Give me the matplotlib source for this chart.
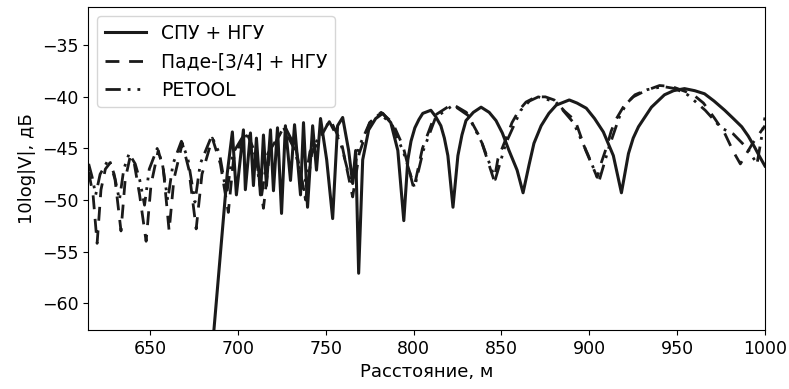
import matplotlib
matplotlib.use("Agg")
import matplotlib.pyplot as plt

# СПУ + НГУ
x_spu = [685.6, 693.9, 696.8, 699.1, 703.1, 704.2, 707.1, 708.8, 710.5, 712.8,
         714.5, 716.2, 718.5, 720.2, 722.5, 724.8, 727.0, 729.9, 732.2, 735.6,
         737.3, 739.6, 742.5, 744.7, 747.0, 750.5, 753.9, 756.7, 759.6, 763.0,
         765.3, 767.0, 768.7, 771.0, 774.4, 778.4, 782.4, 787.0, 791.0, 794.4,
         796.7, 798.5, 800.7, 803.0, 805.2, 809.8, 812.5, 815.5, 817.5, 819.5,
         822.4, 825.2, 827.5, 829.8, 834.0, 838.4, 843.0, 846.9, 850.5, 854.3,
         858.9, 862.3, 865.7, 868.5, 872.6, 877.0, 881.2, 888.6, 893.0, 898.3,
         903.0, 908.0, 913.7, 918.3, 922.3, 925.0, 928.0, 931.5, 935.4, 942.8,
         948.0, 954.2, 960.0, 965.6, 971.0, 977.1, 982.0, 986.8, 990.5, 994.2,
         997.0, 1000.0]
y_spu = [-64.0, -47.4, -43.4, -49.5, -43.2, -49.0, -43.5, -48.6, -44.0, -49.5,
         -43.7, -48.6, -43.2, -49.1, -43.0, -51.3, -42.8, -48.1, -42.7, -49.5,
         -42.5, -50.7, -42.8, -47.1, -42.1, -46.1, -51.8, -42.8, -42.0, -45.2,
         -48.4, -45.2, -57.1, -46.1, -43.2, -42.1, -41.6, -42.5, -45.2, -52.0,
         -46.1, -44.3, -43.0, -42.2, -41.6, -41.3, -41.9, -42.8, -44.0, -45.7,
         -50.7, -45.7, -43.7, -42.3, -41.5, -41.0, -41.5, -42.3, -43.5, -45.2,
         -47.1, -49.3, -46.6, -44.5, -42.8, -41.6, -40.8, -40.3, -40.6, -41.1,
         -42.1, -43.4, -45.7, -49.3, -45.5, -44.0, -42.9, -42.0, -41.0, -39.8,
         -39.4, -39.2, -39.4, -39.7, -40.4, -41.3, -42.1, -42.9, -43.8, -44.9,
         -45.8, -46.7]

# Паде-[3/4] + НГУ
x_pade = [615.0, 617.5, 619.8, 622.0, 624.5, 627.2, 630.0, 633.4, 635.8, 638.6,
          641.0, 644.0, 647.7, 650.5, 654.6, 657.5, 660.8, 663.5, 668.3, 672.0,
          676.2, 679.5, 685.4, 690.0, 694.5, 697.5, 704.5, 710.0, 714.5, 718.0,
          726.5, 733.0, 738.5, 742.0, 752.5, 759.0, 765.3, 769.0, 775.0, 781.5,
          788.0, 794.0, 800.1, 805.0, 812.0, 822.0, 830.0, 838.0, 845.8, 848.0,
          852.0, 856.0, 860.0, 864.0, 869.7, 875.0, 880.0, 886.0, 892.0, 898.0,
          904.5, 907.0, 910.0, 912.5, 915.5, 920.0, 925.0, 932.0, 940.0, 947.0,
          955.0, 960.0, 965.0, 971.0, 977.0, 982.0, 986.0, 993.0, 1000.0]
y_pade = [-47.3, -49.5, -54.2, -49.0, -47.0, -46.4, -48.0, -53.0, -48.0, -45.8,
          -46.5, -49.5, -54.0, -48.5, -45.2, -47.0, -53.0, -48.0, -44.5, -47.0,
          -52.8, -47.5, -44.0, -46.5, -51.2, -46.0, -43.3, -45.5, -50.8, -45.5,
          -42.8, -45.0, -50.0, -45.5, -42.2, -44.5, -49.7, -45.5, -42.5, -41.5,
          -42.5, -44.8, -48.9, -45.0, -41.8, -40.7, -41.5, -44.0, -48.1, -46.0,
          -44.3, -42.5, -41.3, -40.5, -40.0, -40.0, -40.3, -41.4, -42.3, -45.2,
          -47.8, -46.3, -44.8, -43.3, -42.1, -40.8, -40.0, -39.4, -38.9, -39.0,
          -39.5, -39.9, -40.6, -42.0, -43.5, -45.3, -46.5, -44.5, -42.8]

# PETOOL
x_petool = [615.0, 617.0, 619.0, 621.5, 626.5, 629.5, 632.5, 635.0, 638.0, 641.5,
            644.0, 646.8, 649.5, 654.0, 657.0, 660.0, 663.0, 667.8, 671.5, 675.5,
            678.5, 685.0, 689.5, 693.5, 697.0, 704.0, 709.5, 713.5, 717.0, 726.0,
            732.5, 737.5, 741.0, 752.0, 758.5, 764.5, 768.5, 775.0, 781.0, 788.0,
            794.5, 800.5, 805.5, 812.5, 822.5, 831.0, 839.0, 846.5, 852.5, 861.0,
            866.0, 871.0, 881.0, 891.0, 899.0, 905.5, 911.0, 917.0, 921.0, 926.0,
            933.0, 942.0, 949.0, 956.0, 966.0, 975.0, 982.0, 990.0, 995.5, 1000.0]
y_petool = [-46.5, -47.8, -49.5, -47.5, -46.0, -47.5, -50.0, -47.0, -45.5, -46.5,
            -48.0, -50.5, -47.0, -45.0, -46.5, -50.0, -46.5, -44.3, -46.0, -50.2,
            -46.5, -43.8, -45.5, -49.5, -45.5, -43.5, -45.5, -49.5, -45.5, -43.0,
            -45.2, -49.0, -45.3, -42.4, -44.5, -48.5, -45.0, -42.5, -41.6, -42.8,
            -45.5, -48.8, -45.2, -42.0, -40.8, -41.8, -44.5, -48.0, -44.5, -41.3,
            -40.4, -40.0, -40.5, -42.5, -45.5, -48.2, -45.0, -42.0, -40.7, -39.8,
            -39.3, -39.0, -39.2, -39.8, -41.3, -43.0, -43.6, -45.0, -46.5, -42.0]

labels = ['СПУ + НГУ', 'Паде-[3/4] + НГУ', 'PETOOL']

plt.rcParams['font.size'] = 12.5

fig = plt.figure(figsize=(7.89, 3.89), dpi=100)
ax = fig.add_axes([0.1115, 0.1517, 0.858, 0.830])

col = '#1a1a1a'
ax.plot(x_spu, y_spu, color=col, lw=2.2, label=labels[0])
ax.plot(x_pade, y_pade, color=col, lw=2.0, dashes=(5, 3.5), label=labels[1])
ax.plot(x_petool, y_petool, color=col, lw=2.0,
        dashes=(5.5, 2.5, 1, 2.5, 1, 2.5), label=labels[2])

ax.set_xlim(614.6, 1000)
ax.set_ylim(-62.6, -31.3)
ax.set_xticks([650, 700, 750, 800, 850, 900, 950, 1000])
ax.set_yticks([-60, -55, -50, -45, -40, -35])

ax.set_xlabel('Расстояние, м', fontsize=13)
ax.set_ylabel('10log|V|, дБ', fontsize=13)
ax.legend(loc='upper left', fontsize=13.5, handlelength=2.2)

plt.savefig('out.png', dpi=100)
